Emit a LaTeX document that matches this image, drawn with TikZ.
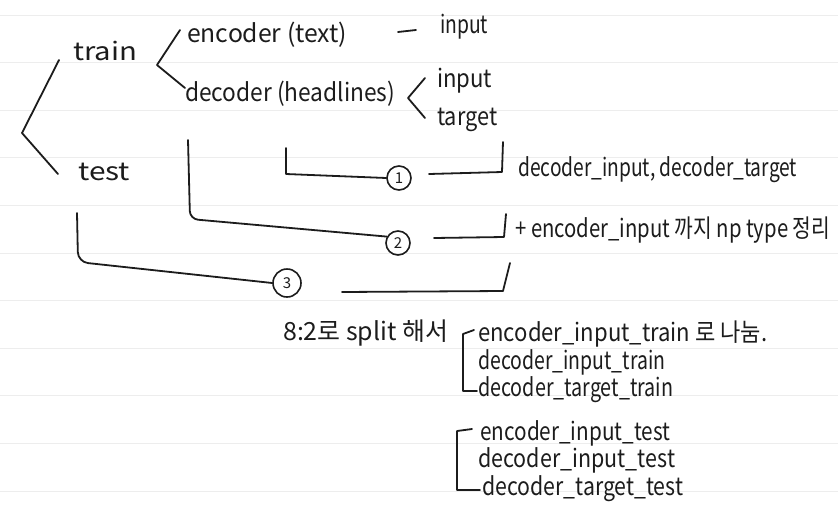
\documentclass[tikz,border=0pt]{standalone}
\usepackage{fontspec}
\setmainfont{Noto Sans CJK KR}
\usepackage{graphicx}
\definecolor{inkc}{HTML}{1C1C1C}
\newcommand\fitw[2]{\resizebox{#1}{\height}{#2}}
\begin{document}
\begin{tikzpicture}[x=1pt,y=-1pt,
  ink/.style={line width=1.8pt, draw=inkc, line cap=round, line join=round},
  hw/.style={inner sep=0pt, anchor=base west, text=inkc, font=\fontsize{25}{28}\selectfont},
  num/.style={circle, draw=inkc, line width=1.6pt, inner sep=0pt, text=inkc, font=\fontsize{15}{17}\selectfont},
  paper/.style={draw=black!7, line width=0.8pt}]
\fill[white] (0,0) rectangle (838,520);
\useasboundingbox (0,0) rectangle (838,520);
% ruled paper
\foreach \k in {0,...,10} {\draw[paper] (0,{15+47.6*\k}) -- (838,{15+47.6*\k});}
% texts
\node[hw] (train) at (73,60) {\fitw{64pt}{train}};
\node[hw] (test) at (78,180) {\fitw{52pt}{test}};
\node[hw] (enc) at (187,42) {\fitw{160pt}{encoder (text)}};
\node[hw] (dec) at (185,101) {\fitw{210pt}{decoder (headlines)}};
\node[hw] (encin) at (440,33) {\fitw{48pt}{input}};
\node[hw] (decin) at (437,87) {\fitw{55pt}{input}};
\node[hw] (dectg) at (437,125) {\fitw{60pt}{target}};
\node[hw] (r1) at (518,176) {\fitw{279pt}{decoder\_input, decoder\_target}};
\node[hw] (r2) at (515,237) {\fitw{315pt}{+ encoder\_input 까지 np type 정리}};
\node[hw] (split) at (283,340) {\fitw{165pt}{8:2로 split 해서}};
\node[hw] (t1) at (478,341) {\fitw{289pt}{encoder\_input\_train 로 나눔.}};
\node[hw] (t2) at (478,369) {\fitw{187pt}{decoder\_input\_train}};
\node[hw] (t3) at (478,396) {\fitw{195pt}{decoder\_target\_train}};
\node[hw] (s1) at (480,440) {\fitw{190pt}{encoder\_input\_test}};
\node[hw] (s2) at (478,467) {\fitw{197pt}{decoder\_input\_test}};
\node[hw] (s3) at (482,495) {\fitw{201pt}{decoder\_target\_test}};
% circled numbers
\node[num, minimum size=24pt] (c1) at (399,178) {1};
\node[num, minimum size=24pt] (c2) at (398,243) {2};
\node[num, minimum size=28pt] (c3) at (287,283) {3};
% coordinates
\coordinate (bA) at (59,60); \coordinate (bV) at (22,133); \coordinate (bB) at (58,174);
\coordinate (tA) at (180,30); \coordinate (tV) at (157,65); \coordinate (tB) at (185,88);
\coordinate (dA) at (398,32); \coordinate (dB) at (416,30);
\coordinate (iA) at (425,78); \coordinate (iV) at (408,98); \coordinate (iB) at (425,118);
\coordinate (l1s) at (286,148); \coordinate (l1c) at (286,174);
\coordinate (m1s) at (429,174); \coordinate (m1c) at (502,172); \coordinate (m1e) at (503,142);
\coordinate (l2s) at (188,140); \coordinate (l2c) at (190,219);
\coordinate (m2s) at (434,238); \coordinate (m2c) at (504,237); \coordinate (m2e) at (506,214);
\coordinate (l3s) at (77,213); \coordinate (l3c) at (78,262);
\coordinate (m3s) at (342,292); \coordinate (m3c) at (503,291); \coordinate (m3e) at (510,263);
\coordinate (kA) at (474,330); \coordinate (kV) at (463,334); \coordinate (kW) at (463,391); \coordinate (kB) at (477,391);
\coordinate (jA) at (472,429); \coordinate (jV) at (457,431); \coordinate (jW) at (457,490); \coordinate (jB) at (480,490);
% brackets
\draw[ink] (bA) -- (bV) -- (bB);
\draw[ink] (tA) -- (tV) -- (tB);
\draw[ink] (dA) -- (dB);
\draw[ink] (iA) -- (iV) -- (iB);
\draw[ink] (kA) -- (kV) -- (kW) -- (kB);
\draw[ink] (jA) -- (jV) -- (jW) -- (jB);
% connectors
\draw[ink] (l1s) -- (l1c) -- (c1.west);
\draw[ink] (m1s) -- (m1c) -- (m1e);
\draw[ink, rounded corners=8pt] (l2s) -- (l2c) -- (c2.150);
\draw[ink] (m2s) -- (m2c) -- (m2e);
\draw[ink, rounded corners=10pt] (l3s) -- (l3c) -- (c3.west);
\draw[ink] (m3s) -- (m3c) -- (m3e);
\end{tikzpicture}
\end{document}
